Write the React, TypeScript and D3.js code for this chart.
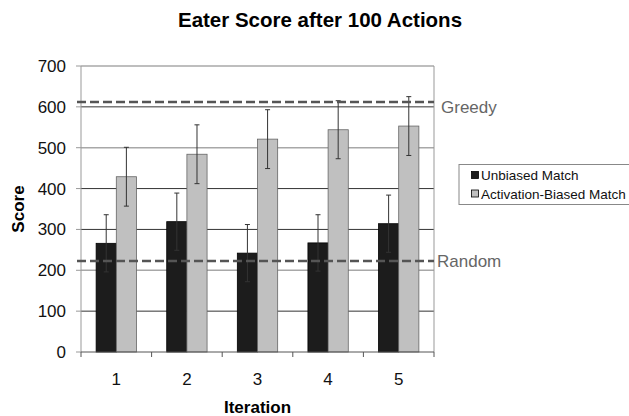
import React from "react";
import * as d3 from "d3";

const iterations = ["1", "2", "3", "4", "5"];
const unbiased = [266, 319, 242, 267, 314];
const unbiasedErr = [70, 70, 70, 69, 70];
const biased = [429, 484, 521, 544, 553];
const biasedErr = [72, 72, 72, 71, 72];
const yTicks = [0, 100, 200, 300, 400, 500, 600, 700];
const greedy = 612;
const random = 223;
const seriesNames = ["Unbiased Match", "Activation-Biased Match"];
const seriesColors = ["#1c1c1c", "#c0c0c0"];

const W = 629, H = 416;
const left = 81, right = 434, top = 66, bottom = 352;
const FONT = "'Liberation Sans', Arial, sans-serif";

export default function App() {
  const x = d3.scaleBand<string>().domain(iterations).range([left, right]).paddingInner(0).paddingOuter(0);
  const inner = d3.scaleBand<number>().domain([0, 1]).range([0, x.bandwidth()]).paddingInner(0).paddingOuter(0.75);
  const y = d3.scaleLinear().domain([0, 700]).range([bottom, top]);
  const series = [
    { vals: unbiased, errs: unbiasedErr },
    { vals: biased, errs: biasedErr },
  ];
  return (
    <svg width={W} height={H} style={{ position: "absolute", left: 0, top: 0, background: "#fff" }} fontFamily={FONT}>
      <rect x={0} y={0} width={W} height={H} fill="#fff" />
      <text x={320} y={27} textAnchor="middle" fontSize={20.5} fontWeight="bold">Eater Score after 100 Actions</text>
      {yTicks.filter(t => t > 0).map(t => {
        const light = t === 200 || t === 500 || t === 700;
        return (
          <line key={t} x1={left} x2={right} y1={y(t)} y2={y(t)}
            stroke={light ? "#a8a8a8" : "#333"} strokeWidth={light ? 1.6 : 1} />
        );
      })}
      <line x1={left} x2={left} y1={top} y2={bottom} stroke="#999" strokeWidth={1} />
      <line x1={right} x2={right} y1={top} y2={bottom} stroke="#999" strokeWidth={1} />
      {series.map((s, si) =>
        iterations.map((it, i) => {
          const bx = (x(it) as number) + (inner(si) as number);
          const bw = inner.bandwidth();
          return (
            <rect key={si + "-" + i} x={bx} y={y(s.vals[i])} width={bw} height={bottom - y(s.vals[i])}
              fill={seriesColors[si]} stroke={si === 0 ? "#000" : "#666"} strokeWidth={0.8} />
          );
        })
      )}
      {series.map((s, si) =>
        iterations.map((it, i) => {
          const cx = (x(it) as number) + (inner(si) as number) + inner.bandwidth() / 2;
          const hi = y(s.vals[i] + s.errs[i]);
          const lo = y(s.vals[i] - s.errs[i]);
          return (
            <g key={"e" + si + "-" + i} stroke="#333" strokeWidth={1}>
              <line x1={cx} x2={cx} y1={hi} y2={lo} />
              <line x1={cx - 2.5} x2={cx + 2.5} y1={hi} y2={hi} />
              <line x1={cx - 2.5} x2={cx + 2.5} y1={lo} y2={lo} />
            </g>
          );
        })
      )}
      <line x1={77} x2={right} y1={y(greedy)} y2={y(greedy)} stroke="#555" strokeWidth={2.5} strokeDasharray="9,4" />
      <line x1={77} x2={right} y1={y(random)} y2={y(random)} stroke="#555" strokeWidth={2.5} strokeDasharray="9,4" />
      <text x={441} y={y(greedy) + 11} fontSize={17} fill="#666">Greedy</text>
      <text x={437} y={y(random) + 6} fontSize={17} fill="#666">Random</text>
      {yTicks.map(t => (
        <g key={"yt" + t}>
          <line x1={76} x2={left} y1={y(t)} y2={y(t)} stroke="#999" />
          <text x={66} y={y(t) + 6} textAnchor="end" fontSize={17} fill="#111">{t}</text>
        </g>
      ))}
      <line x1={left} x2={right} y1={bottom} y2={bottom} stroke="#555" strokeWidth={1} />
      {d3.range(iterations.length + 1).map(k => {
        const tx = left + k * x.step();
        return <line key={"xt" + k} x1={tx} x2={tx} y1={bottom} y2={bottom + 5} stroke="#555" />;
      })}
      {iterations.map(it => (
        <text key={"xl" + it} x={(x(it) as number) + x.bandwidth() / 2} y={385} textAnchor="middle" fontSize={17} fill="#111">{it}</text>
      ))}
      <text x={257.5} y={413} textAnchor="middle" fontSize={17} fontWeight="bold">Iteration</text>
      <text transform={`translate(24,${(top + bottom) / 2}) rotate(-90)`} textAnchor="middle" fontSize={17} fontWeight="bold">Score</text>
      <rect x={459} y={164.5} width={175} height={40} fill="#fff" stroke="#888" />
      {seriesNames.map((n, i) => (
        <g key={"lg" + i}>
          <rect x={471.5} y={171.5 + i * 18.5} width={7} height={7} fill={seriesColors[i]} stroke="#000" strokeWidth={0.8} />
          <text x={481} y={180 + i * 18.5} fontSize={13.5} fill="#111">{n}</text>
        </g>
      ))}
    </svg>
  );
}
